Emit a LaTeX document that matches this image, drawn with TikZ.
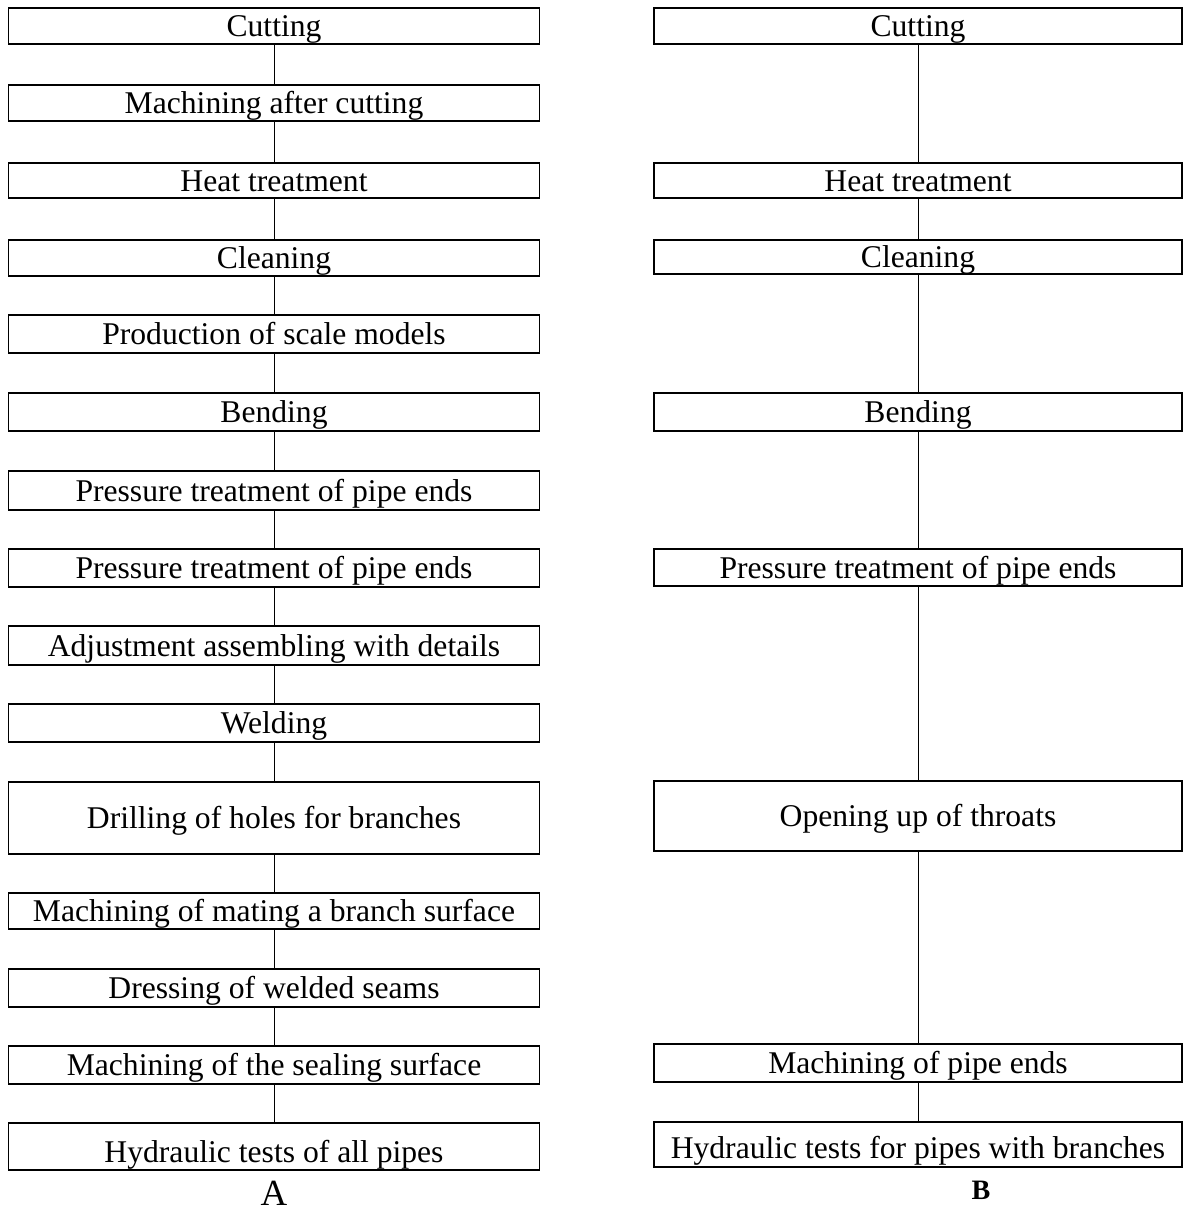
\documentclass[tikz,border=0pt]{standalone}
\usepackage{fontspec}
\setmainfont{Liberation Serif}
\tikzset{
  stage/.style={draw, line width=0.8pt, inner ysep=0pt, text height=0.5cm, text depth=0.08cm,
    font=\fontsize{18}{21}\selectfont},
  stageA/.style={stage, minimum width=10.62cm},
  stageB/.style={stage, minimum width=10.56cm},
  link/.style={line width=0.5pt}
}
\begin{document}
\begin{tikzpicture}[x=0.02cm, y=-0.02cm]

        \useasboundingbox (0, 0) rectangle (1186, 1211);

        % process A
        \node (a1) at (274, 26) [stageA, minimum height=0.72cm] {Cutting};
        \node (a2) at (274, 103) [stageA, minimum height=0.72cm] {Machining after cutting};
        \node (a3) at (274, 180.5) [stageA, minimum height=0.7cm] {Heat treatment};
        \node (a4) at (274, 258) [stageA, minimum height=0.72cm] {Cleaning};
        \node (a5) at (274, 334) [stageA, minimum height=0.76cm] {Production of scale models};
        \node (a6) at (274, 412) [stageA, minimum height=0.76cm] {Bending};
        \node (a7) at (274, 490.5) [stageA, minimum height=0.78cm] {Pressure treatment of pipe ends};
        \node (a8) at (274, 568) [stageA, minimum height=0.76cm] {Pressure treatment of pipe ends};
        \node (a9) at (274, 645.5) [stageA, minimum height=0.78cm] {Adjustment assembling with details};
        \node (a10) at (274, 723) [stageA, minimum height=0.76cm] {Welding};
        \node (a11) at (274, 818) [stageA, minimum height=1.44cm] {Drilling of holes for branches};
        \node (a12) at (274, 911) [stageA, minimum height=0.72cm] {Machining of mating a branch surface};
        \node (a13) at (274, 988) [stageA, minimum height=0.76cm] {Dressing of welded seams};
        \node (a14) at (274, 1065) [stageA, minimum height=0.76cm] {Machining of the sealing surface};
        \node (a15) at (274, 1146.5) [stageA, minimum height=0.94cm, text height=0.66cm, text depth=0.04cm] {Hydraulic tests of all pipes};
        \node (labA) at (274, 1193) [font=\fontsize{21}{24}\selectfont] {A};

        \foreach \i [evaluate=\i as \j using int(\i+1)] in {1,...,14}
            \draw [link] (a\i) -- (a\j);

        % process B
        \node (b1) at (918, 26) [stageB, minimum height=0.72cm] {Cutting};
        \node (b2) at (918, 180.5) [stageB, minimum height=0.7cm] {Heat treatment};
        \node (b3) at (918, 257) [stageB, minimum height=0.68cm] {Cleaning};
        \node (b4) at (918, 412) [stageB, minimum height=0.76cm] {Bending};
        \node (b5) at (918, 567.5) [stageB, minimum height=0.74cm] {Pressure treatment of pipe ends};
        \node (b6) at (918, 816) [stageB, minimum height=1.4cm] {Opening up of throats};
        \node (b7) at (918, 1063) [stageB, minimum height=0.76cm] {Machining of pipe ends};
        \node (b8) at (918, 1144.5) [stageB, minimum height=0.9cm, text height=0.6cm, text depth=0.06cm] {Hydraulic tests for pipes with branches};
        \node (labB) at (981, 1190) [font=\fontsize{16}{19}\selectfont\bfseries] {B};

        \foreach \i [evaluate=\i as \j using int(\i+1)] in {1,...,7}
            \draw [link] (b\i) -- (b\j);

    \end{tikzpicture}
\end{document}
